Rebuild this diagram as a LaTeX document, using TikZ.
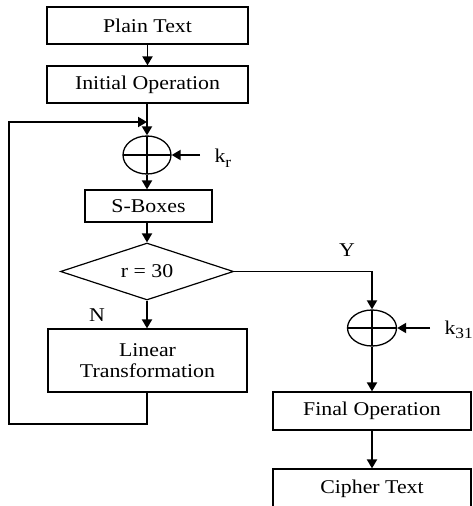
\documentclass[tikz,border=0pt]{standalone}
\usepackage{fontspec}
\setmainfont{Liberation Serif}[FakeStretch=1.12]
\usetikzlibrary{shapes.geometric,arrows.meta}

% lowered subscript set in the text font
\newcommand{\keyidx}[1]{\raisebox{-0.5ex}{\fontsize{15.5}{15.5}\selectfont #1}}

\tikzset{
  lbl/.style={font=\fontsize{19.5}{21}\selectfont},
  blk/.style={draw, line width=1.2pt, rectangle, align=center, inner sep=0pt, lbl},
  xorop/.style={draw, line width=1.3pt, ellipse, inner sep=0pt,
    path picture={\draw[line width=1.2pt]
      (path picture bounding box.north) -- (path picture bounding box.south)
      (path picture bounding box.west) -- (path picture bounding box.east);}},
  arr/.style={line width=1.9pt, line join=miter, -{Triangle[width=10pt,length=9pt]}},
  wire/.style={line width=1.9pt, line join=miter},
}

\begin{document}
\begin{tikzpicture}[x=1pt, y=-1pt]
\useasboundingbox (0,0) rectangle (473,506);
\clip (0,0) rectangle (473,506);

% main round
\node[blk, minimum width=201pt, minimum height=37pt] (plain) at (147.5,25.5) {Plain Text};
\node[blk, minimum width=201pt, minimum height=37pt] (init) at (147.5,84.5) {Initial Operation};
\node[xorop, minimum width=48pt, minimum height=38pt] (xor1) at (147,155) {};
\node[blk, minimum width=127pt, minimum height=32pt] (sbox) at (148.5,206) {S-Boxes};
\node[draw, line width=1.2pt, diamond, aspect=3, inner sep=0pt,
      minimum width=173pt, minimum height=57pt, lbl] (dec) at (147,271.5) {r = 30};
\node[blk, minimum width=199pt, minimum height=63pt] (lin) at (147.5,360.5) {Linear\\Transformation};

% final round
\node[xorop, minimum width=49pt, minimum height=36pt] (xor2) at (372,328) {};
\node[blk, minimum width=198pt, minimum height=38pt] (final) at (372,411) {Final Operation};
\node[blk, minimum width=198pt, minimum height=40pt] (cipher) at (372,489) {Cipher Text};

% key inputs and branch labels
\node[lbl, anchor=west] (kr) at (211,158) {k\keyidx{r}};
\node[lbl, anchor=west] (klast) at (441,330) {k\keyidx{31}};
\coordinate (krin) at (200,155);
\coordinate (klin) at (430,328);
\node[lbl] (yes) at (347,250) {Y};
\node[lbl] (no) at (97,315) {N};

% feedback path
\coordinate (join) at (147,122);
\coordinate (lb) at (147,424);
\coordinate (lc) at (9,424);
\coordinate (tc) at (9,122);

% connectors
\draw[arr] (plain.south) -- (init.north);
\draw[wire] (init.south -| join) -- (join);
\draw[arr] (join) -- (xor1.north);
\draw[arr] (lb -| lin.south) -- (lb) -- (lc) -- (tc) -- (join);
\draw[wire] (lin.south -| lb) -- (lb);
\draw[arr] (krin) -- (xor1.east);
\draw[arr] (xor1.south) -- (sbox.north -| xor1.south);
\draw[arr] (sbox.south -| xor1.south) -- (dec.north);
\draw[arr] (dec.south) -- (lin.north -| dec.south);
\draw[arr] (dec.east) -| (xor2.north);
\draw[arr] (klin) -- (xor2.east);
\draw[arr] (xor2.south) -- (final.north);
\draw[arr] (final.south) -- (cipher.north);
\end{tikzpicture}
\end{document}
